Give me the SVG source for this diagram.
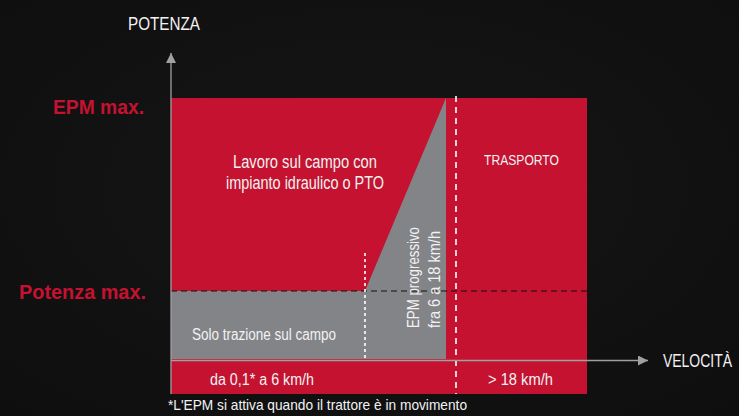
<svg xmlns="http://www.w3.org/2000/svg" width="739" height="416" viewBox="0 0 739 416">
  <defs>
    <radialGradient id="bg" cx="0.5" cy="0.45" r="0.75">
      <stop offset="0" stop-color="#161617"/>
      <stop offset="1" stop-color="#0e0e0f"/>
    </radialGradient>
    <marker id="arrow" viewBox="0 0 10 10" refX="10" refY="5" markerWidth="10" markerHeight="10" markerUnits="userSpaceOnUse" orient="auto">
      <path d="M0,0 L10,5 L0,10 Z" fill="#a0a0a0"/>
    </marker>
    <style>
      .t { font-family: "Liberation Sans", Arial, sans-serif; fill: #f2f2f2; }
      .lbl { font-family: "Liberation Sans", Arial, sans-serif; fill: #c41230; font-weight: bold; }
      .red { fill: #c41230; }
      .gray { fill: #838488; }
      .axis { stroke: #a0a0a0; stroke-width: 1.3; fill: none; }
    </style>
  </defs>
  <rect width="739" height="416" fill="url(#bg)"/>

  <g id="zone-red">
    <rect class="red" x="171" y="98" width="416" height="296"/>
  </g>
  <g id="zone-gray">
    <polygon class="gray" points="171,291 365,291 446,98 446,359 171,359"/>
  </g>

  <g id="connectors">
    <line x1="171" y1="291" x2="587" y2="291" stroke="#111111" stroke-width="1.2" stroke-dasharray="6,4"/>
    <line x1="456" y1="96" x2="456" y2="394" stroke="#ffffff" stroke-width="1.6" stroke-dasharray="6,5"/>
    <line x1="365" y1="253" x2="365" y2="359" stroke="#ffffff" stroke-width="1.6" stroke-dasharray="3,3"/>
    <line class="axis" x1="171" y1="394" x2="171" y2="53" marker-end="url(#arrow)"/>
    <line class="axis" x1="171" y1="360.5" x2="648" y2="360.5" marker-end="url(#arrow)"/>
  </g>

  <g id="axis-labels">
    <text class="t" x="128" y="30" font-size="18" textLength="72" lengthAdjust="spacingAndGlyphs">POTENZA</text>
    <text class="t" x="663" y="367" font-size="17.5" textLength="69" lengthAdjust="spacingAndGlyphs">VELOCITÀ</text>
    <text class="lbl" x="53" y="114" font-size="21" textLength="91" lengthAdjust="spacingAndGlyphs">EPM max.</text>
    <text class="lbl" x="19" y="299" font-size="21" textLength="127" lengthAdjust="spacingAndGlyphs">Potenza max.</text>
  </g>

  <g id="node-lavoro">
    <text class="t" x="233" y="168" font-size="17.5" textLength="144" lengthAdjust="spacingAndGlyphs">Lavoro sul campo con</text>
    <text class="t" x="226" y="189" font-size="17.5" textLength="158" lengthAdjust="spacingAndGlyphs">impianto idraulico o PTO</text>
  </g>
  <g id="node-trasporto">
    <text class="t" x="484" y="165" font-size="15" textLength="75" lengthAdjust="spacingAndGlyphs">TRASPORTO</text>
  </g>
  <g id="node-solo">
    <text class="t" x="192" y="340" font-size="16" textLength="144" lengthAdjust="spacingAndGlyphs">Solo trazione sul campo</text>
  </g>
  <g id="node-epm">
    <text class="t" transform="translate(419,328) rotate(-90)" font-size="17" textLength="101" lengthAdjust="spacingAndGlyphs">EPM progressivo</text>
    <text class="t" transform="translate(440,328) rotate(-90)" font-size="17" textLength="97" lengthAdjust="spacingAndGlyphs">fra 6 a 18 km/h</text>
  </g>
  <g id="node-range1">
    <text class="t" x="210" y="385" font-size="16" textLength="104" lengthAdjust="spacingAndGlyphs">da 0,1* a 6 km/h</text>
  </g>
  <g id="node-range2">
    <text class="t" x="488" y="385" font-size="16" textLength="65" lengthAdjust="spacingAndGlyphs">&gt; 18 km/h</text>
  </g>
  <g id="note">
    <text class="t" x="168" y="410" font-size="14.5" textLength="299" lengthAdjust="spacingAndGlyphs">*L'EPM si attiva quando il trattore è in movimento</text>
  </g>
</svg>
